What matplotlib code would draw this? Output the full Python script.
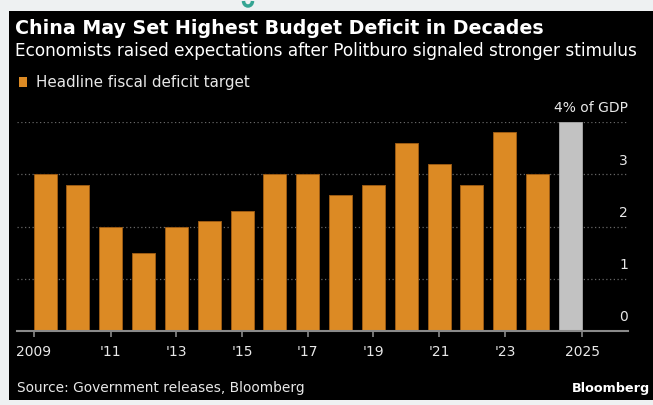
import matplotlib
matplotlib.use("Agg")
import matplotlib.pyplot as plt
import matplotlib.patches as patches

# Data
years = [2009, 2010, 2011, 2012, 2013, 2014, 2015, 2016, 2017,
         2018, 2019, 2020, 2021, 2022, 2023, 2024, 2025]
deficit = [3.0, 2.8, 2.0, 1.5, 2.0, 2.1, 2.3, 3.0, 3.0,
           2.6, 2.8, 3.6, 3.2, 2.8, 3.8, 3.0, 4.0]
is_proposal = [False] * 16 + [True]
tick_years = [2009, 2011, 2013, 2015, 2017, 2019, 2021, 2023, 2025]
tick_labels = ["2009", "'11", "'13", "'15", "'17", "'19", "'21", "'23", "2025"]
y_ticks = [0, 1, 2, 3, 4]
y_labels = ["0", "1", "2", "3", "4% of GDP"]

W, H = 653, 405
ORANGE = "#dc8a24"
ORANGE_EDGE = "#9a5a14"
GREY = "#c2c2c2"
TEXT = "#e8e8e8"


def fx(x):
    return x / W


def fy(y):
    return 1 - y / H


def fit_width(fig, txt, width_px):
    r = fig.canvas.get_renderer()
    bb = txt.get_window_extent(r)
    txt.set_fontsize(txt.get_fontsize() * width_px / bb.width)


fig = plt.figure(figsize=(W / 100, H / 100), dpi=100)
fig.patch.set_facecolor("#eef1f2")

# black panel
fig.patches.append(patches.Rectangle((fx(9), fy(400)), 1 - fx(9), fy(11) - fy(400),
                                     transform=fig.transFigure, facecolor="black",
                                     edgecolor="none", zorder=0))
# small teal mark peeking in at the top
fig.patches.append(patches.Arc((248, H - 1), 9, 10, theta1=180, theta2=360,
                               transform=None, color="#35a593", lw=2.5))

ax = fig.add_axes([fx(17), fy(331), fx(628) - fx(17), fy(122) - fy(331)])
ax.set_facecolor("none")
ax.set_zorder(5)

x = list(range(len(years)))
colors = [GREY if p else ORANGE for p in is_proposal]
edges = ["#a0a0a0" if p else ORANGE_EDGE for p in is_proposal]
ax.bar(x, deficit, width=0.70, color=colors, edgecolor=edges, linewidth=0.7, zorder=3)

ax.set_xlim(-0.853, 17.75)
ax.set_ylim(0, 4)

# grid lines (dotted) and right-side labels sitting above them
for v, lab in zip(y_ticks, y_labels):
    if v > 0:
        ax.axhline(v, color="#666666", lw=0.9, linestyle=(0, (1, 2)), zorder=1)
    ax.annotate(lab, xy=(1.0, v), xycoords=("axes fraction", "data"),
                xytext=(0, 7), textcoords="offset points",
                ha="right", va="baseline", color=TEXT, fontsize=10,
                annotation_clip=False)

# x ticks: first / last at bar edges, others at bar centres
pos = []
for yr in tick_years:
    i = years.index(yr)
    if i == 0:
        pos.append(i - 0.35)
    elif i == len(years) - 1:
        pos.append(i + 0.35)
    else:
        pos.append(i)
ax.set_xticks(pos)
ax.set_xticklabels(tick_labels, color=TEXT, fontsize=10)
ax.tick_params(axis="x", length=4.5, width=1.2, color="#8a8a8a", pad=5.5)
ax.set_yticks([])

for s in ["top", "right", "left"]:
    ax.spines[s].set_visible(False)
ax.spines["bottom"].set_color("#8a8a8a")
ax.spines["bottom"].set_linewidth(1.5)
ax.spines["bottom"].set_zorder(4)

# titles and texts
title = fig.text(fx(15), fy(34), "China May Set Highest Budget Deficit in Decades",
                 color="white", fontsize=13, fontweight="bold", va="baseline")
sub = fig.text(fx(15), fy(56),
               "Economists raised expectations after Politburo signaled stronger stimulus",
               color="white", fontsize=11, va="baseline")
fig.patches.append(patches.Rectangle((fx(19), fy(87)), fx(27) - fx(19), fy(77) - fy(87),
                                     transform=fig.transFigure, facecolor=ORANGE,
                                     edgecolor="none"))
leg = fig.text(fx(36), fy(87), "Headline fiscal deficit target",
               color=TEXT, fontsize=10, va="baseline")
src = fig.text(fx(17), fy(392), "Source: Government releases, Bloomberg",
               color=TEXT, fontsize=10, va="baseline")
brand = fig.text(fx(650), fy(392), "Bloomberg", color="white", fontsize=10,
                 fontweight="bold", ha="right", va="baseline")

fit_width(fig, title, 525)
fit_width(fig, sub, 625)
fit_width(fig, leg, 214)
fit_width(fig, src, 288)
fit_width(fig, brand, 78)

fig.savefig("out.png", dpi=100, facecolor=fig.get_facecolor())
